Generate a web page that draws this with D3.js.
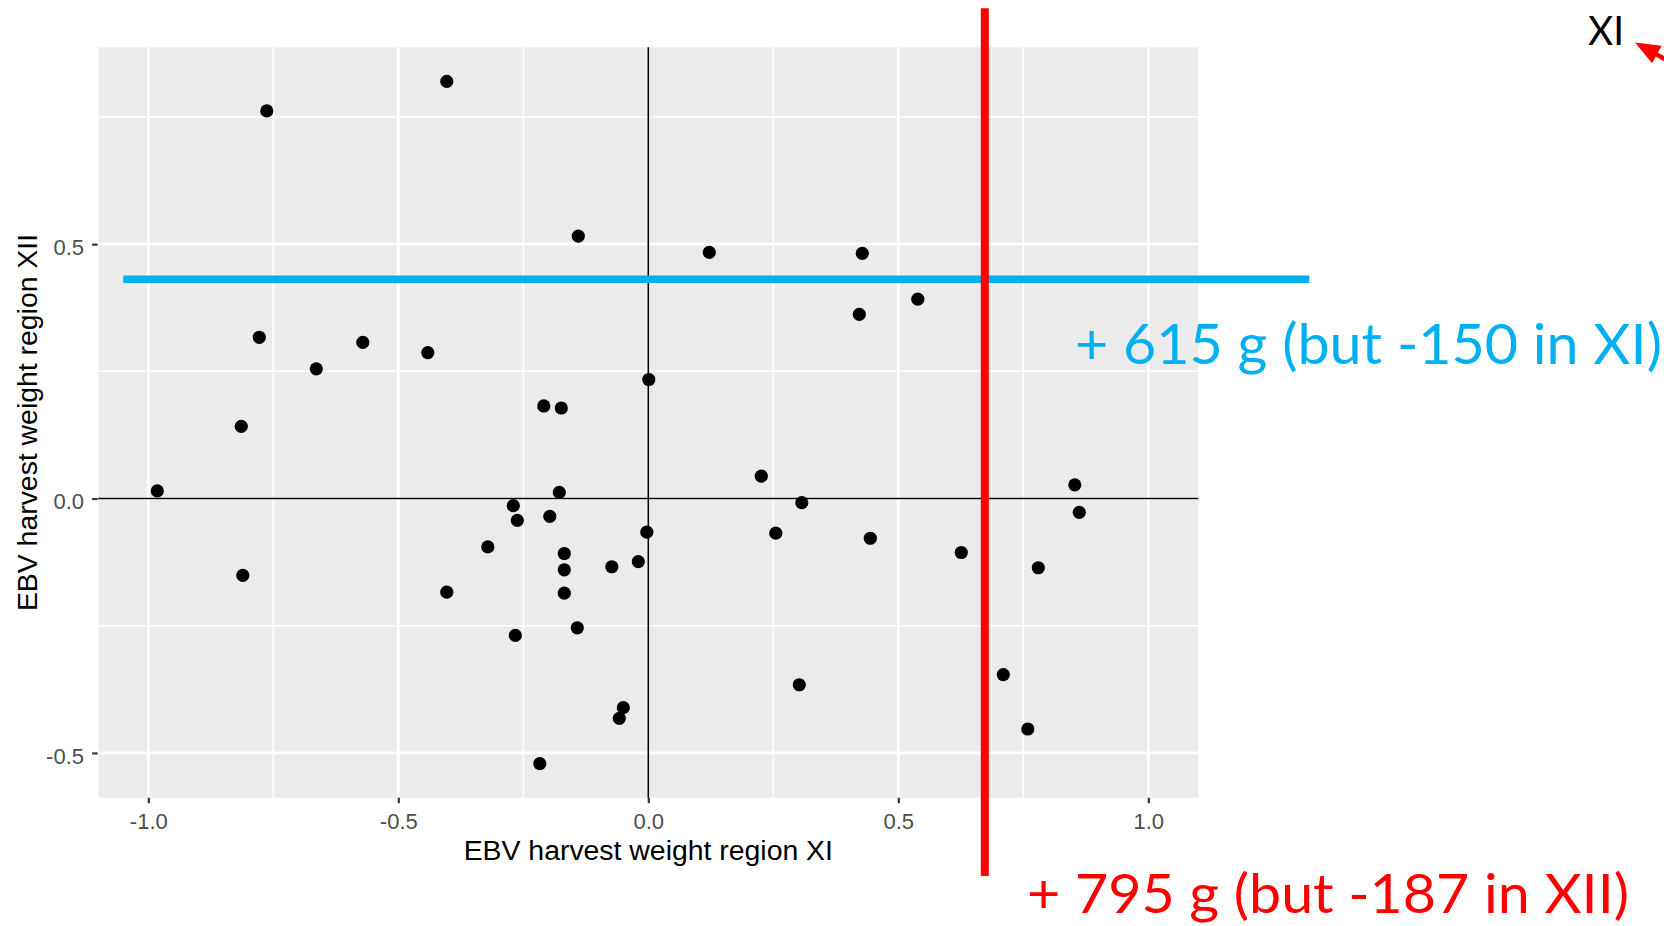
<!DOCTYPE html>
<html>
<head>
<meta charset="utf-8">
<script src="https://cdn.jsdelivr.net/npm/d3@7"></script>
<style>
html,body{margin:0;padding:0;background:#ffffff;overflow:hidden}
</style>
</head>
<body>
<svg id="chart" width="1664" height="926"></svg>
<script>
// ---- data (EBV harvest weight, region XI vs region XII) ----
const ebvXI = [-0.982,-0.763,-0.403,-0.140,0.122,0.428,0.539,0.422,-0.778,-0.571,
               -0.441,-0.664,0.001,-0.209,-0.174,-0.814,0.226,0.853,-0.178,-0.270,
               0.307,-0.262,-0.197,0.862,-0.003,0.255,0.444,-0.321,0.626,-0.168,
               -0.020,-0.073,-0.168,0.780,-0.811,-0.403,-0.168,-0.142,-0.266,0.710,
               0.302,-0.050,-0.058,0.759,-0.217];
const ebvXII = [0.015,0.762,0.820,0.516,0.484,0.482,0.392,0.362,0.317,0.307,
                0.287,0.255,0.234,0.182,0.178,0.142,0.044,0.027,0.012,-0.014,
                -0.008,-0.043,-0.035,-0.027,-0.066,-0.068,-0.078,-0.095,-0.106,-0.108,
                -0.124,-0.134,-0.140,-0.136,-0.151,-0.184,-0.186,-0.254,-0.269,-0.346,
                -0.366,-0.411,-0.432,-0.453,-0.521];
const xTickValues = [-1.0,-0.5,0.0,0.5,1.0];
const yTickValues = [-0.5,0.0,0.5];
const xMinorValues = [-0.75,-0.25,0.25,0.75];
const yMinorValues = [-0.25,0.25,0.75];
const xTitle = "EBV harvest weight region XI";
const yTitle = "EBV harvest weight region XII";
// selection thresholds (annotations)
const cutXI = 0.673;          // red vertical line
const cutXII = 0.431;         // blue horizontal line
const blueExtent = [-1.05, 1.322];
const redExtent = [0.964, -0.742];
const labelXI = "+ 795 g (but -187 in XII)";
const labelXII = "+ 615 g (but -150 in XI)";
const cornerLabel = "XI";

// ---- layout ----
const W = 1664, H = 926;
const panel = {left: 98.3, right: 1198.3, top: 47.3, bottom: 797.7};
const svg = d3.select("#chart");
svg.append("rect").attr("width", W).attr("height", H).attr("fill", "#ffffff");

const x = d3.scaleLinear().domain([-1.1, 1.1]).range([panel.left, panel.right]);
const y = d3.scaleLinear().domain([-0.588, 0.887]).range([panel.bottom, panel.top]);

const axisFont = "'Liberation Sans', Arial, sans-serif";
const noteFont = "Lato, 'Open Sans', sans-serif";

// panel background
svg.append("rect")
  .attr("x", panel.left).attr("y", panel.top)
  .attr("width", panel.right - panel.left).attr("height", panel.bottom - panel.top)
  .attr("fill", "#EBEBEB");

const grid = svg.append("g");
// minor grid
grid.selectAll(".vmin").data(xMinorValues).enter().append("line")
  .attr("x1", d => x(d)).attr("x2", d => x(d))
  .attr("y1", panel.top).attr("y2", panel.bottom)
  .attr("stroke", "#ffffff").attr("stroke-width", 1.5);
grid.selectAll(".hmin").data(yMinorValues).enter().append("line")
  .attr("y1", d => y(d)).attr("y2", d => y(d))
  .attr("x1", panel.left).attr("x2", panel.right)
  .attr("stroke", "#ffffff").attr("stroke-width", 1.5);
// major grid
grid.selectAll(".vmaj").data(xTickValues).enter().append("line")
  .attr("x1", d => x(d)).attr("x2", d => x(d))
  .attr("y1", panel.top).attr("y2", panel.bottom)
  .attr("stroke", "#ffffff").attr("stroke-width", 2.8);
grid.selectAll(".hmaj").data(yTickValues).enter().append("line")
  .attr("y1", d => y(d)).attr("y2", d => y(d))
  .attr("x1", panel.left).attr("x2", panel.right)
  .attr("stroke", "#ffffff").attr("stroke-width", 2.8);

// zero reference lines
svg.append("line")
  .attr("x1", x(0)).attr("x2", x(0)).attr("y1", panel.top).attr("y2", panel.bottom)
  .attr("stroke", "#000000").attr("stroke-width", 1.6);
svg.append("line")
  .attr("x1", panel.left).attr("x2", panel.right).attr("y1", y(0)).attr("y2", y(0))
  .attr("stroke", "#000000").attr("stroke-width", 1.6);

// points
const pts = ebvXI.map((v, i) => ({x: v, y: ebvXII[i]}));
svg.append("g").selectAll("circle").data(pts).enter().append("circle")
  .attr("cx", d => x(d.x)).attr("cy", d => y(d.y)).attr("r", 6.6)
  .attr("fill", "#000000");

// axes
const fmt = d => d.toFixed(1);
const xAxis = svg.append("g").attr("transform", `translate(0,${panel.bottom})`)
  .call(d3.axisBottom(x).tickValues(xTickValues).tickSize(5.5).tickPadding(10.2).tickFormat(fmt));
const yAxis = svg.append("g").attr("transform", `translate(${panel.left - 0.7},0)`)
  .call(d3.axisLeft(y).tickValues(yTickValues).tickSize(5.5).tickPadding(8.1).tickFormat(fmt));
[xAxis, yAxis].forEach(a => {
  a.select(".domain").remove();
  a.selectAll(".tick line").attr("stroke", "#333333").attr("stroke-width", 2.2);
  a.selectAll(".tick text").attr("fill", "#4D4D4D")
    .style("font-family", axisFont).style("font-size", "22px");
});
yAxis.selectAll(".tick text").attr("dy", "0.46em");

// axis titles
svg.append("text").text(xTitle)
  .attr("x", (panel.left + panel.right) / 2).attr("y", 860)
  .attr("text-anchor", "middle").attr("fill", "#000000")
  .style("font-family", axisFont).style("font-size", "28.4px");
svg.append("text").text(yTitle)
  .attr("transform", `translate(37,${(panel.top + panel.bottom) / 2}) rotate(-90)`)
  .attr("text-anchor", "middle").attr("fill", "#000000")
  .style("font-family", axisFont).style("font-size", "28.4px");

// threshold annotations
svg.append("line")
  .attr("x1", x(blueExtent[0])).attr("x2", x(blueExtent[1]))
  .attr("y1", y(cutXII)).attr("y2", y(cutXII))
  .attr("stroke", "#00B0F0").attr("stroke-width", 7.5);
svg.append("line")
  .attr("x1", x(cutXI)).attr("x2", x(cutXI))
  .attr("y1", y(redExtent[0])).attr("y2", y(redExtent[1]))
  .attr("stroke", "#FF0000").attr("stroke-width", 8);

svg.append("text").text(labelXII)
  .attr("x", 1075).attr("y", 364)
  .attr("textLength", 587).attr("lengthAdjust", "spacingAndGlyphs")
  .attr("fill", "#00B0F0")
  .style("font-family", noteFont).style("font-size", "57px");
svg.append("text").text(labelXI)
  .attr("x", 1027).attr("y", 913)
  .attr("textLength", 602).attr("lengthAdjust", "spacingAndGlyphs")
  .attr("fill", "#FF0000")
  .style("font-family", noteFont).style("font-size", "55px");
svg.append("text").text(cornerLabel)
  .attr("x", 1588).attr("y", 45)
  .attr("textLength", 36).attr("lengthAdjust", "spacingAndGlyphs")
  .attr("fill", "#000000")
  .style("font-family", noteFont).style("font-size", "41px");

// red arrow pointing at the corner label
const tip = [1635, 42.5], ang = 29 * Math.PI / 180, headL = 25, headW = 10;
const dir = [Math.cos(ang), Math.sin(ang)], nrm = [-Math.sin(ang), Math.cos(ang)];
const base = [tip[0] + headL * dir[0], tip[1] + headL * dir[1]];
svg.append("line")
  .attr("x1", base[0] - 2 * dir[0]).attr("y1", base[1] - 2 * dir[1])
  .attr("x2", base[0] + 90 * dir[0]).attr("y2", base[1] + 90 * dir[1])
  .attr("stroke", "#FF0000").attr("stroke-width", 4.5);
svg.append("path")
  .attr("d", d3.line()([
    tip,
    [base[0] + headW * nrm[0], base[1] + headW * nrm[1]],
    [base[0] - headW * nrm[0], base[1] - headW * nrm[1]]
  ]) + "Z")
  .attr("fill", "#FF0000");
</script>
</body>
</html>
